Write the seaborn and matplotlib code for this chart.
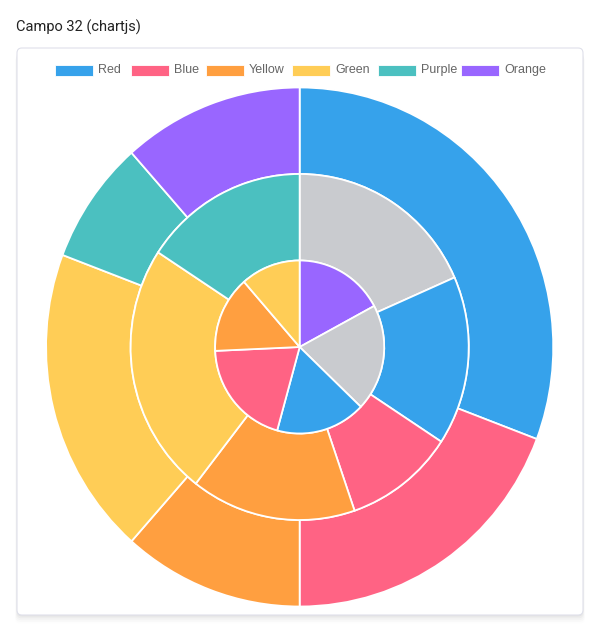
import matplotlib
matplotlib.use('Agg')
import matplotlib.pyplot as plt
import seaborn as sns
from matplotlib.patches import FancyBboxPatch

# labels and the three rings (outer -> inner)
labels = ['Red', 'Blue', 'Yellow', 'Green', 'Purple', 'Orange']
outer_values = [8, 5, 3, 5, 2, 3]
middle_values = [7, 6, 4, 6, 9, 6]
inner_values = [6, 7, 6, 7, 5, 4]

# chart.js default palette, colours carry on from one dataset to the next
palette = ['#36A2EB', '#FF6384', '#FF9F40', '#FFCD56', '#4BC0C0', '#9966FF', '#C9CBCF']

W, H = 600, 632


def ring_colors(n, offset):
    return [palette[(offset + i) % len(palette)] for i in range(n)]


sns.set_theme(style='white')
plt.rcParams['font.family'] = ['Roboto', 'DejaVu Sans']

fig = plt.figure(figsize=(W / 100, H / 100), dpi=100)
fig.patch.set_facecolor('white')

# card with a soft shadow
for k, a in enumerate([0.035, 0.028, 0.02, 0.014, 0.009]):
    d = 1.5 + k * 1.8
    sh = FancyBboxPatch(((17 - k * 0.5) / W, (H - 615 - d) / H), (566 + k) / W, 567 / H,
                        boxstyle='round,pad=0,rounding_size=0.008',
                        transform=fig.transFigure, facecolor='black', alpha=a,
                        edgecolor='none', zorder=0)
    fig.patches.append(sh)
card = FancyBboxPatch((17 / W, (H - 615) / H), 566 / W, 567 / H,
                      boxstyle='round,pad=0,rounding_size=0.008',
                      transform=fig.transFigure, facecolor='white',
                      edgecolor='#dfe0ea', linewidth=0.8, zorder=1)
fig.patches.append(card)

fig.text(16 / W, 1 - 27 / H, 'Campo 32 (chartjs)', fontsize=10.5, color='#222222',
         va='center', ha='left')

# pie axes: the drawn circle is a little narrower than tall in the reference
left, top, width, height = 45.3, 86.7, 508.7, 520.6
ax = fig.add_axes([left / W, (H - top - height) / H, width / W, height / H])
ax.set_zorder(2)

rings = [(outer_values, 0), (middle_values, len(outer_values)),
         (inner_values, len(outer_values) + len(middle_values))]
step = 1 / 3
for i, (vals, off) in enumerate(rings):
    ax.pie(vals, radius=1 - i * step, colors=ring_colors(len(vals), off),
           startangle=90, counterclock=False,
           wedgeprops=dict(width=step, edgecolor='white', linewidth=1.3))

ax.set_aspect('auto')
ax.set_xlim(-1.003, 1.003)
ax.set_ylim(-1.003, 1.003)
ax.axis('off')

# legend in chart.js style
leg_x = [55, 131, 206, 292, 378, 461]
for lab, col, x in zip(labels, palette, leg_x):
    fig.patches.append(FancyBboxPatch((x / W, (H - 76) / H), 38 / W, 11 / H,
                                      boxstyle='square,pad=0', transform=fig.transFigure,
                                      facecolor=col, edgecolor='white', linewidth=0.6,
                                      zorder=3))
    fig.text((x + 43) / W, 1 - 70 / H, lab, fontsize=9, color='#666666',
             family=['Liberation Sans', 'DejaVu Sans'], va='center', ha='left', zorder=3)

fig.savefig('out.png', dpi=100)
